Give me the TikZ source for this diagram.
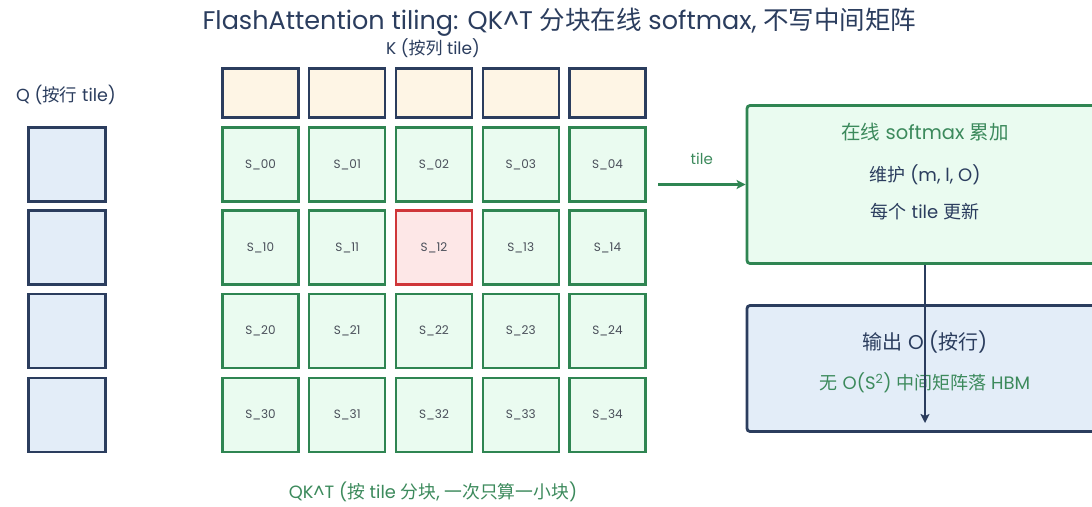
\documentclass[tikz,border=0pt]{standalone}
\usepackage{fontspec}
\setmainfont{Poppins}
\newfontfamily\cjk{Noto Sans CJK SC}
\newcommand{\zh}[1]{{\cjk #1}}
\usetikzlibrary{arrows.meta}
\definecolor{navy}{HTML}{2B3D5E}
\definecolor{qfill}{HTML}{E3EDF8}
\definecolor{kfill}{HTML}{FEF5E5}
\definecolor{gline}{HTML}{2F8552}
\definecolor{gfill}{HTML}{EAFBF0}
\definecolor{rline}{HTML}{CF3639}
\definecolor{rfill}{HTML}{FDE7E7}
\definecolor{txtgrey}{HTML}{4A4F5A}
\definecolor{gtxt}{HTML}{3C8A5C}
\begin{document}
\begin{tikzpicture}[x=1pt,y=-1pt,
  qtile/.style={draw=navy,fill=qfill,line width=2.2pt,minimum width=77pt,minimum height=74pt,inner sep=0pt},
  ktile/.style={draw=navy,fill=kfill,line width=2.2pt,minimum width=76pt,minimum height=49pt,inner sep=0pt},
  stile/.style={draw=gline,fill=gfill,line width=2.4pt,minimum width=76pt,minimum height=74pt,inner sep=0pt,font=\fontsize{12}{14}\selectfont,text=txtgrey},
  redtile/.style={stile,draw=rline,fill=rfill},
  bigbox/.style={line width=2.8pt,rounded corners=3pt,inner sep=0pt},
  lbl/.style={inner sep=0pt,anchor=center}]
\clip (0,0) rectangle (1092,506);
\fill[white] (0,0) rectangle (1092,506);
% title
\node[lbl,text=navy,font=\fontsize{25.5}{28}\selectfont] (title) at (559.5,22) {FlashAttention tiling: QK\textasciicircum T \zh{分块在线} softmax, \zh{不写中间矩阵}};
\node[lbl,text=navy,font=\fontsize{17}{19}\selectfont] (klbl) at (433,48) {K (\zh{按列} tile)};
\node[lbl,text=navy,font=\fontsize{17.5}{19}\selectfont] (qlbl) at (66,95) {Q (\zh{按行} tile)};
% Q tiles
\foreach \i/\y in {0/164.5,1/247.5,2/331,3/415} {
  \node[qtile] (Q\i) at (67,\y) {};
}
% K tiles
\foreach \j in {0,...,4} {
  \node[ktile] (K\j) at ({260.5+86.75*\j},93) {};
}
% S grid
\foreach \i/\y in {0/164.5,1/247.5,2/331,3/415} {
  \foreach \j in {0,...,4} {
    \node[stile] (S\i\j) at ({260.5+86.75*\j},\y) {S\_\i\j};
  }
}
\node[redtile] (S12) at ({260.5+86.75*2},247.5) {S\_12};
\node[lbl,text=gtxt,font=\fontsize{17.8}{20}\selectfont] (slbl) at (433,492) {QK\textasciicircum T (\zh{按} tile \zh{分块}, \zh{一次只算一小块})};
% accumulator box
\node[bigbox,draw=gline,fill=gfill,minimum width=356pt,minimum height=158pt] (acc) at (925,184.5) {};
\node[lbl,text=gtxt,font=\fontsize{19.5}{21}\selectfont] (acc1) at (925,132) {\zh{在线} softmax \zh{累加}};
\node[lbl,text=navy,font=\fontsize{18}{20}\selectfont] (acc2) at (925,175) {\zh{维护} (m, l, O)};
\node[lbl,text=navy,font=\fontsize{18}{20}\selectfont] (acc3) at (925,212) {\zh{每个} tile \zh{更新}};
% output box
\node[bigbox,draw=navy,fill=qfill,minimum width=356pt,minimum height=126pt] (out) at (925,368.5) {};
\node[lbl,text=navy,font=\fontsize{20}{22}\selectfont] (out1) at (925,342) {\zh{输出} O (\zh{按行})};
\node[lbl,text=gtxt,font=\fontsize{18}{20}\selectfont] (out2) at (925,383) {\zh{无} O(S\textsuperscript{2}) \zh{中间矩阵落} HBM};
% connectors
\coordinate (tstart) at (658,184.5);
\draw[gline,line width=2.4pt,-{Stealth[length=9pt,width=9pt,inset=2pt]}] (tstart) -- (acc.west) node[midway,above=26pt,anchor=center,text=gtxt,font=\fontsize{15}{17}\selectfont,inner sep=0pt] {tile};
\coordinate (oend) at (925,423);
\draw[navy,line width=2.2pt,-{Stealth[length=9pt,width=9pt,inset=2pt]}] (acc.south) -- (oend);
\end{tikzpicture}
\end{document}
